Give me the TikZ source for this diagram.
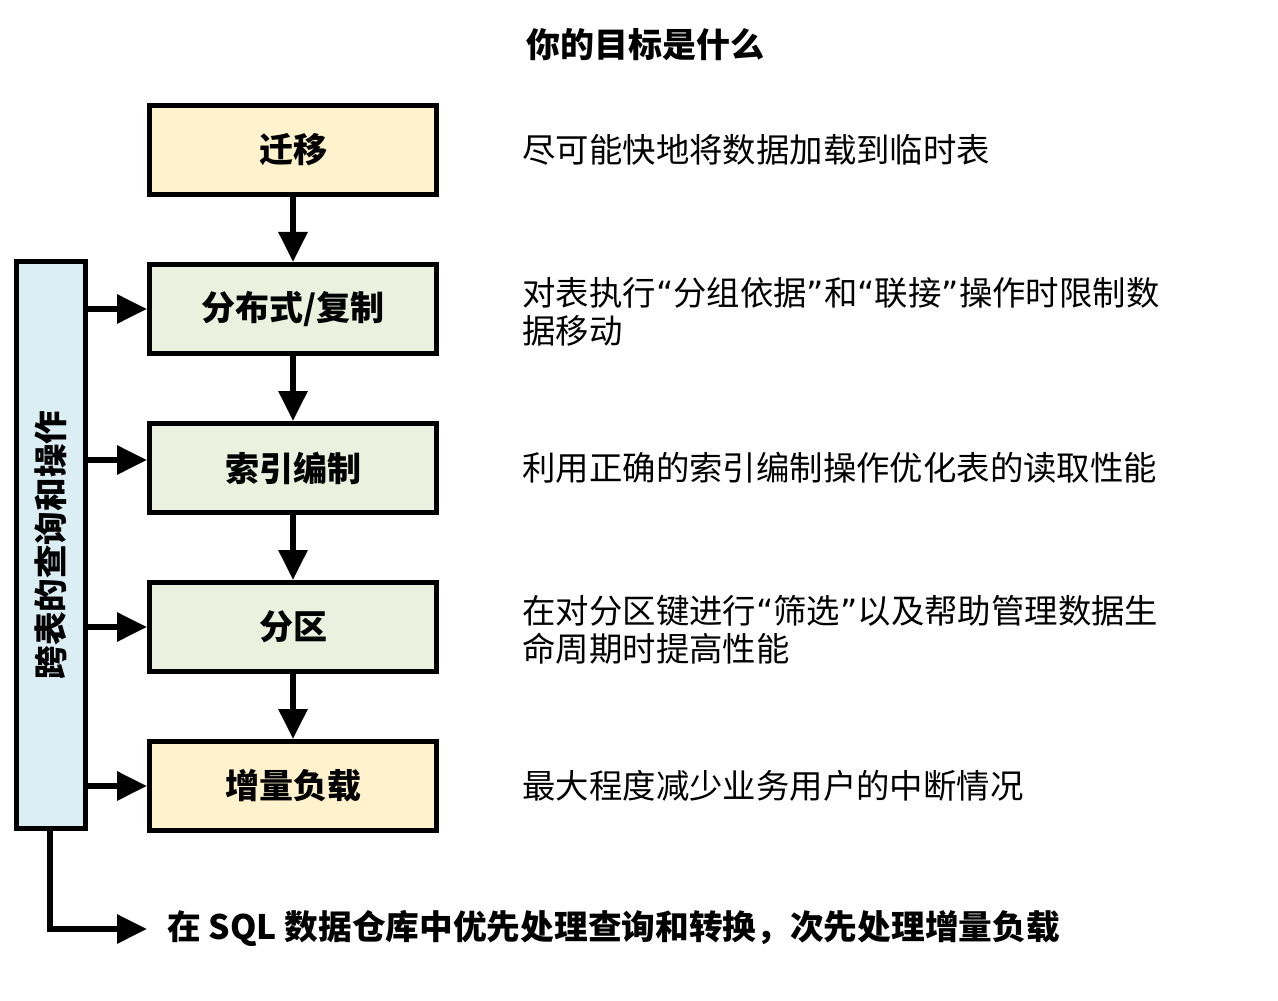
\documentclass[tikz,border=0pt]{standalone}
\usepackage{fontspec}
\setmainfont{Noto Sans CJK SC}
\newfontfamily\quotefont{DejaVu Sans}
\newcommand{\openq}{{\quotefont “}}
\newcommand{\closeq}{{\quotefont ”}}
\usetikzlibrary{arrows.meta, positioning}
\definecolor{stage-yellow}{RGB}{255,242,204}
\definecolor{stage-green}{RGB}{235,241,222}
\definecolor{query-blue}{RGB}{219,238,243}

\begin{document}
\begin{tikzpicture}[
  x=0.5pt, y=-0.5pt,
  node distance=32.5pt,
  stagebox/.style={draw, line width=2.5pt, minimum width=143.5pt, minimum height=44.5pt,
    font=\bfseries\fontsize{17}{20}\selectfont},
  note/.style={anchor=west, align=left, inner sep=0pt, font=\fontsize{16.7}{19}\selectfont},
  flow/.style={line width=3pt, -{Triangle[length=15pt,width=14pt]}},
]
  \useasboundingbox (0,0) rectangle (1278,1000);

  \node[font=\bfseries\fontsize{17}{20}\selectfont] (title) at (645,45) {你的目标是什么};

  % stages
  \node[stagebox, fill=stage-yellow] (migr) at (293,150) {迁移};
  \node[stagebox, fill=stage-green, below=of migr] (dist) {分布式/复制};
  \node[stagebox, fill=stage-green, below=of dist] (idx) {索引编制};
  \node[stagebox, fill=stage-green, below=of idx] (part) {分区};
  \node[stagebox, fill=stage-yellow, below=of part] (incr) {增量负载};

  \foreach \a/\b in {migr/dist, dist/idx, idx/part, part/incr}
    \draw[flow] (\a) -- (\b);

  % goals on the right
  \node[note, right=41.5pt of migr] (migrnote) {尽可能快地将数据加载到临时表};
  \node[note, right=41.5pt of dist, yshift=-1.5pt] (distnote) {对表执行\openq 分组依据\closeq 和\openq 联接\closeq 操作时限制数\\据移动};
  \node[note, right=41.5pt of idx] (idxnote) {利用正确的索引编制操作优化表的读取性能};
  \node[note, right=41.5pt of part, yshift=-1.5pt] (partnote) {在对分区键进行\openq 筛选\closeq 以及帮助管理数据生\\命周期时提高性能};
  \node[note, right=41.5pt of incr] (incrnote) {最大程度减少业务用户的中断情况};

  % queries across tables
  \node[draw, line width=2.5pt, fill=query-blue, minimum width=34.5pt, minimum height=283.5pt] (bar) at (51,545) {};
  \node[rotate=90, font=\bfseries\fontsize{16.8}{20}\selectfont] (barlabel) at (bar.center) {跨表的查询和操作};

  \coordinate (idxin) at ([yshift=4pt]idx.west);
  \draw[flow] (bar.east |- dist.west) -- (dist.west);
  \draw[flow] (bar.east |- idxin) -- (idxin);
  \draw[flow] (bar.east |- part.west) -- (part.west);
  \draw[flow] (bar.east |- incr.west) -- (incr.west);

  \node[anchor=west, inner sep=0pt, font=\bfseries\fontsize{16.85}{20}\selectfont] (goal) at (167,929)
    {在 SQL 数据仓库中优先处理查询和转换，次先处理增量负载};
  \draw[flow, shorten >=10pt] ([xshift=-0.5pt]bar.south) |- (goal.west);
\end{tikzpicture}
\end{document}
